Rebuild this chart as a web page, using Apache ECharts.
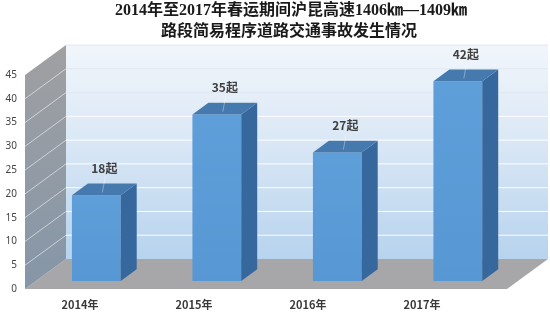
<!DOCTYPE html>
<html>
<head>
<meta charset="utf-8">
<script src="https://cdn.jsdelivr.net/npm/echarts@6/dist/echarts.min.js"></script>
<style>html,body{margin:0;padding:0;background:#fff;}#c{width:550px;height:313px;}</style>
</head>
<body>
<div id="c"></div>
<script>
const titleLine1 = '2014年至2017年春运期间沪昆高速1406㎞—1409㎞';
const titleLine2 = '路段简易程序道路交通事故发生情况';
const categories = ['2014年', '2015年', '2016年', '2017年'];
const values = [18, 35, 27, 42];
const valueLabels = ['18起', '35起', '27起', '42起'];
const yMin = 0, yMax = 45, yStep = 5;

// oblique "3D" depth vector (pixels for full floor depth)
const DX = 41, DY = -30;
const D0 = 0.27, D1 = 0.66; // bar front / back depth fraction

const chart = echarts.init(document.getElementById('c'), null, {renderer: 'canvas'});

function wallItem(params, api) {
  const cs = params.coordSys;
  const L = cs.x, R = cs.x + cs.width;
  const y0 = api.coord([0, yMin])[1];
  const yT = api.coord([0, yMax])[1];
  const children = [];
  // back wall
  children.push({
    type: 'polygon',
    shape: {points: [[L + DX, yT + DY], [R + DX, yT + DY], [R + DX, y0 + DY], [L + DX, y0 + DY]]},
    style: {fill: new echarts.graphic.LinearGradient(0, 0, 0, 1, [
      {offset: 0, color: '#f1f6fb'}, {offset: 0.4, color: '#dde9f6'}, {offset: 1, color: '#b7d3ee'}])}
  });
  for (let v = yMin + yStep; v <= yMax; v += yStep) {
    const y = api.coord([0, v])[1];
    children.push({type: 'line', shape: {x1: L + DX, y1: y + DY, x2: R + DX, y2: y + DY},
      style: {stroke: v >= 35 ? '#e2e8ef' : '#ffffff', lineWidth: 1, opacity: 0.95}});
  }
  // floor
  children.push({
    type: 'polygon',
    shape: {points: [[L, y0], [R, y0], [R + DX, y0 + DY], [L + DX, y0 + DY]]},
    style: {fill: '#a7a7a9'}
  });
  // left wall
  children.push({
    type: 'polygon',
    shape: {points: [[L, y0], [L, yT], [L + DX, yT + DY], [L + DX, y0 + DY]]},
    style: {fill: new echarts.graphic.LinearGradient(0, 0, 0, 1, [
      {offset: 0, color: '#a0a0a2'}, {offset: 1, color: '#8596a8'}])}
  });
  for (let v = yMin + yStep; v < yMax; v += yStep) {
    const y = api.coord([0, v])[1];
    children.push({type: 'line', shape: {x1: L, y1: y, x2: L + DX, y2: y + DY},
      style: {stroke: '#ffffff', lineWidth: 1, opacity: 0.55}});
  }
  return {type: 'group', children};
}

function barItem(params, api) {
  const idx = api.value(0);
  const val = api.value(1);
  const base = api.coord([idx, 0]);
  const top = api.coord([idx, val]);
  const bw = api.size([1, 0])[0] * 0.405;
  const x0 = base[0] - bw / 2 + DX * D0;
  const x1 = x0 + bw;
  const yb = base[1] + DY * D0;
  const yt = top[1] + DY * D0;
  const dx = DX * (D1 - D0), dy = DY * (D1 - D0);
  const cx = base[0] + DX * (D0 + D1) / 2;
  const cy = top[1] + DY * (D0 + D1) / 2;
  return {type: 'group', children: [
    {type: 'rect', shape: {x: x0, y: yt, width: bw, height: yb - yt},
      style: {fill: new echarts.graphic.LinearGradient(0, 0, 0, 1, [
        {offset: 0, color: '#5e9ed9'}, {offset: 1, color: '#5797d3'}])}},
    {type: 'polygon', shape: {points: [[x1, yb], [x1 + dx, yb + dy], [x1 + dx, yt + dy], [x1, yt]]},
      style: {fill: '#36689d'}},
    {type: 'polygon', shape: {points: [[x0, yt], [x1, yt], [x1 + dx, yt + dy], [x0 + dx, yt + dy]]},
      style: {fill: '#4679ae'}},
    {type: 'line', shape: {x1: cx - 2, y1: cy + 3, x2: cx + 1, y2: cy - 13},
      style: {stroke: '#ffffff', lineWidth: 1, opacity: 0.35}},
    {type: 'text', x: cx, y: cy - 21,
      style: {text: valueLabels[params.dataIndex], fill: '#404040', font: 'bold 12px "Noto Sans CJK SC"',
        textAlign: 'center', textVerticalAlign: 'middle'}}
  ]};
}

chart.setOption({
  backgroundColor: '#ffffff',
  animation: false,
  graphic: [
    {type: 'text', x: 291, y: 3, style: {text: titleLine1, fill: '#1a1a1a',
      font: 'bold 16px "Liberation Serif", "Noto Sans CJK SC"', textAlign: 'center'}},
    {type: 'text', x: 289, y: 24, style: {text: titleLine2, fill: '#1a1a1a',
      font: 'bold 16px "Liberation Serif", "Noto Sans CJK SC"', textAlign: 'center'}}
  ],
  grid: [
    {left: 25, right: 43, top: 75, bottom: 24},
    {left: 23, width: 456, top: 75, bottom: 24}
  ],
  xAxis: [
    {type: 'category', data: categories, gridIndex: 0, show: false},
    {type: 'category', data: categories, gridIndex: 1,
      axisLine: {show: false}, axisTick: {show: false},
      axisLabel: {margin: 10, color: '#3a3a3a', fontSize: 11, fontWeight: 'bold', fontFamily: 'Noto Sans CJK SC'}}
  ],
  yAxis: [
    {type: 'value', gridIndex: 0, min: yMin, max: yMax, interval: yStep,
      axisLine: {show: false}, axisTick: {show: false}, splitLine: {show: false},
      axisLabel: {margin: 8, color: '#444', fontSize: 10, fontFamily: 'Noto Sans'}},
    {type: 'value', gridIndex: 1, min: yMin, max: yMax, show: false, splitLine: {show: false}}
  ],
  series: [
    {type: 'custom', xAxisIndex: 0, yAxisIndex: 0, z: 1, silent: true,
      renderItem: wallItem, data: [[0, 0]], clip: false},
    {type: 'custom', xAxisIndex: 0, yAxisIndex: 0, z: 2, silent: true,
      renderItem: barItem, encode: {x: 0, y: 1}, clip: false,
      data: values.map((v, i) => [i, v])}
  ]
});
</script>
</body>
</html>
